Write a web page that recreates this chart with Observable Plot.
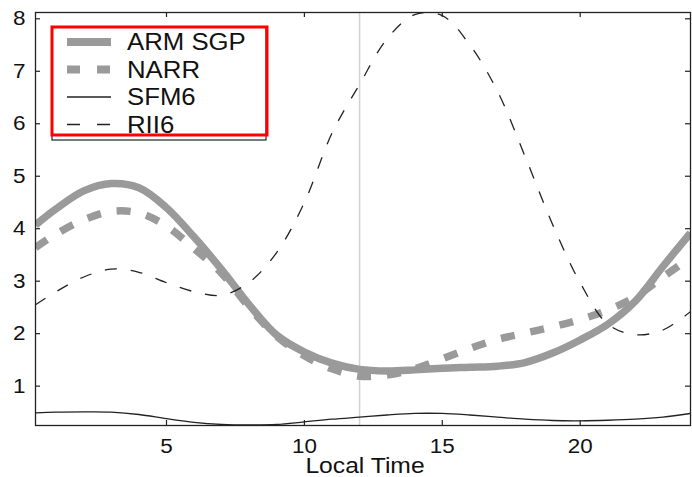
<!DOCTYPE html>
<html><head><meta charset="utf-8">
<script src="https://cdn.jsdelivr.net/npm/d3@7"></script>
<script src="https://cdn.jsdelivr.net/npm/@observablehq/plot@0.6"></script>
<style>html,body{margin:0;padding:0;background:#fff;} #chart{width:692px;height:477px;}</style>
</head><body><div id="chart"></div>
<script>
// ---- data ----
const hours  = [0.25, 1, 2, 3, 4, 5, 6, 7, 8, 9, 10, 11, 12, 13, 14, 15, 16, 17, 18, 19, 20, 21, 22, 23, 24];
const armSgp = [4.07, 4.38, 4.72, 4.86, 4.78, 4.40, 3.84, 3.22, 2.55, 1.97, 1.65, 1.44, 1.32, 1.29, 1.31, 1.34, 1.36, 1.38, 1.45, 1.63, 1.88, 2.18, 2.62, 3.28, 3.92];
const narr   = [3.64, 3.90, 4.17, 4.33, 4.30, 4.05, 3.62, 3.15, 2.50, 1.95, 1.58, 1.33, 1.19, 1.21, 1.33, 1.52, 1.72, 1.89, 2.01, 2.13, 2.27, 2.45, 2.70, 3.08, 3.45];
const sfm6   = [0.49, 0.505, 0.51, 0.505, 0.46, 0.38, 0.31, 0.27, 0.26, 0.27, 0.32, 0.37, 0.41, 0.45, 0.48, 0.48, 0.45, 0.41, 0.37, 0.345, 0.34, 0.35, 0.37, 0.41, 0.48];
const rii6   = [2.55, 2.80, 3.08, 3.23, 3.17, 2.97, 2.80, 2.73, 2.98, 3.55, 4.50, 5.82, 6.75, 7.62, 8.08, 8.06, 7.50, 6.62, 5.38, 4.08, 2.97, 2.18, 1.98, 2.07, 2.42];
const seriesNames = ["ARM SGP", "NARR", "SFM6", "RII6"];
const xTicks = [5, 10, 15, 20];
const yTicks = [1, 2, 3, 4, 5, 6, 7, 8];
const markerHour = [12];
const xLabel = "Local Time";

// ---- styling ----
const FONT = "'Liberation Sans', Arial, Helvetica, sans-serif";
const W = 692, H = 477, mL = 35, mR = 2, mT = 12, mB = 52;
const plotW = W - mL - mR, plotH = H - mT - mB;
const seriesStyle = {
  "ARM SGP": {stroke: "#9a9a9a", strokeWidth: 7.5, dash: null,    legendWidth: 8,   legendDash: null},
  "NARR":    {stroke: "#9a9a9a", strokeWidth: 7.5, dash: "14,16", legendWidth: 8,   legendDash: "13,17"},
  "SFM6":    {stroke: "#222",    strokeWidth: 1.3, dash: null,    legendWidth: 1.3, legendDash: null},
  "RII6":    {stroke: "#222",    strokeWidth: 1.3, dash: "12,14", legendWidth: 1.3, legendDash: "13,17"}
};

const valuesBySeries = [armSgp, narr, sfm6, rii6];
const rows = [];
seriesNames.forEach((name, i) => {
  hours.forEach((h, j) => rows.push({series: name, hour: h, value: valuesBySeries[i][j]}));
});

const lineMarks = seriesNames.map(name => {
  const s = seriesStyle[name];
  return Plot.line(rows.filter(r => r.series === name), {
    x: "hour", y: "value", curve: "catmull-rom",
    stroke: s.stroke, strokeWidth: s.strokeWidth,
    strokeDasharray: s.dash || undefined, strokeLinecap: "butt",
    clip: true
  });
});

const chart = Plot.plot({
  width: W, height: H,
  marginLeft: mL, marginRight: mR, marginTop: mT, marginBottom: mB,
  style: {fontFamily: FONT, fontSize: "20px", color: "#111", background: "#fff", overflow: "visible"},
  x: {domain: [0.25, 24]},
  y: {domain: [0.25, 8.12]},
  marks: [
    Plot.ruleX(markerHour, {x: d => d, stroke: "#d2d2d2", strokeWidth: 1.5}),
    ...lineMarks,
    Plot.frame({stroke: "#222", strokeWidth: 1.3}),
    Plot.tickY(yTicks, {y: d => d, insetRight: plotW - 5, stroke: "#222", strokeWidth: 1.2}),
    Plot.tickY(yTicks, {y: d => d, insetLeft: plotW - 5, stroke: "#222", strokeWidth: 1.2}),
    Plot.tickX(xTicks, {x: d => d, insetTop: plotH - 5, stroke: "#222", strokeWidth: 1.2}),
    Plot.tickX(xTicks, {x: d => d, insetBottom: plotH - 5, stroke: "#222", strokeWidth: 1.2}),
    Plot.axisY({ticks: yTicks, tickSize: 0, tickPadding: 10, fontSize: 20, label: null}),
    Plot.axisX({ticks: xTicks, tickSize: 0, tickPadding: 13, fontSize: 20, label: null}),
    Plot.text([xLabel], {frameAnchor: "bottom", lineAnchor: "middle", dy: 40, dx: 2, fontSize: 22, fill: "#111"})
  ]
});

document.getElementById("chart").appendChild(chart);

// ---- legend (inside the frame, top-left) ----
const svg = d3.select(chart);
const lg = svg.append("g").attr("class", "legend");
lg.append("rect").attr("x", 52).attr("y", 27).attr("width", 214).attr("height", 113)
  .attr("fill", "#fff").attr("stroke", "#222").attr("stroke-width", 1.2);
seriesNames.forEach((name, i) => {
  const s = seriesStyle[name];
  const y = 42 + i * 27.5;
  lg.append("line").attr("x1", 67).attr("x2", 111).attr("y1", y).attr("y2", y)
    .attr("stroke", s.stroke).attr("stroke-width", s.legendWidth)
    .attr("stroke-dasharray", s.legendDash);
  lg.append("text").attr("x", 127).attr("y", y).attr("dy", "0.35em")
    .attr("text-anchor", "start")
    .attr("font-family", FONT).attr("font-size", 23).attr("fill", "#111").text(name);
});
lg.append("rect").attr("x", 52).attr("y", 27).attr("width", 215).attr("height", 108)
  .attr("fill", "none").attr("stroke", "#f00").attr("stroke-width", 3);

// slightly widen text to match the reference's horizontally stretched lettering
chart.querySelectorAll("text").forEach(t => {
  const L = t.getComputedTextLength();
  if (L > 0) {
    t.setAttribute("textLength", (L * 1.12).toFixed(1));
    t.setAttribute("lengthAdjust", "spacingAndGlyphs");
  }
});
</script>
</body></html>
